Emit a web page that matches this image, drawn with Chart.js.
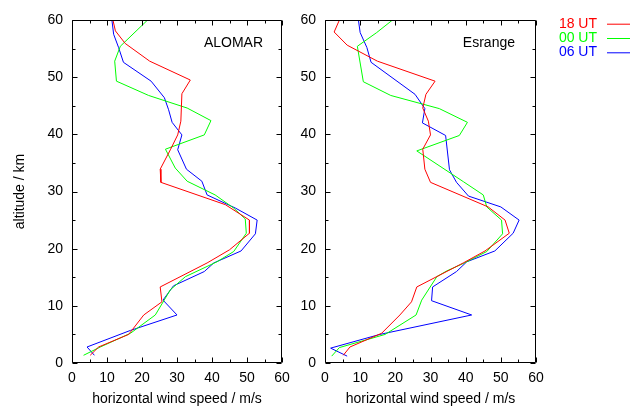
<!DOCTYPE html>
<html><head><meta charset="utf-8">
<script src="https://cdn.jsdelivr.net/npm/chart.js@4/dist/chart.umd.min.js"></script>
<style>
html,body{margin:0;padding:0;background:#fff;width:641px;height:408px;overflow:hidden}
#a{position:absolute;left:0;top:0;width:300px;height:408px}
#b{position:absolute;left:290px;top:0;width:351px;height:408px}
</style></head><body>
<canvas id="a" width="300" height="408"></canvas>
<canvas id="b" width="351" height="408"></canvas>
<script>
// ---- data ----
const seriesLabels = ['18 UT', '00 UT', '06 UT'];
const seriesColors = ['#ff0000', '#00ff00', '#0000ff'];
const xTicks = [0, 10, 20, 30, 40, 50, 60];
const yTicks = [0, 10, 20, 30, 40, 50, 60];
const xTitle = 'horizontal wind speed / m/s';
const yTitle = 'altitude / km';
const panelNames = ['ALOMAR', 'Esrange'];

// ALOMAR
const alomar18Alt = [60, 58.1, 55.9, 52.8, 49.5, 47.1, 42.3, 39.9, 37.3, 33.9, 31.6, 27.7, 25.0, 22.7, 19.8, 17.5, 13.3, 10.7, 8.4, 5.0, 2.8, 1.35];
const alomar18Spd = [11.7, 12.4, 15.2, 22.2, 33.8, 31.4, 31.1, 30.2, 28.1, 25.2, 25.4, 43.8, 50.7, 50.7, 45.0, 38.6, 25.2, 25.7, 20.5, 16.2, 7.6, 5.2];
const alomar00Alt = [60, 55.4, 52.8, 49.3, 46.8, 44.6, 42.4, 39.9, 37.4, 34.1, 31.8, 29.4, 27.1, 25.2, 22.7, 19.5, 17.7, 15.1, 12.8, 8.4, 5.2, 2.8, 1.35];
const alomar00Spd = [21.6, 13.8, 12.2, 12.7, 21.9, 32.9, 39.7, 37.8, 26.7, 29.5, 32.9, 40.9, 46.2, 49.5, 49.8, 46.2, 41.4, 32.4, 28.1, 23.8, 16.7, 8.1, 3.3];
const alomar06Alt = [60, 57.5, 55.2, 52.6, 49.3, 46.4, 44.3, 42.1, 39.9, 37.3, 33.9, 31.8, 29.4, 27.1, 25.0, 22.6, 19.6, 17.5, 16.0, 13.5, 11.0, 8.4, 5.7, 2.8, 1.35];
const alomar06Spd = [11.4, 11.9, 13.3, 14.7, 22.6, 26.4, 27.6, 28.6, 31.4, 30.2, 32.7, 37.1, 38.6, 46.7, 52.9, 52.4, 48.3, 40.5, 37.8, 29.0, 26.0, 30.0, 16.7, 4.3, 6.4];

// Esrange
const esrange18Alt = [60, 57.9, 55.6, 52.8, 49.3, 47.0, 44.6, 42.3, 39.9, 37.4, 33.9, 31.6, 27.3, 25.0, 22.7, 19.6, 17.5, 13.3, 10.7, 8.4, 5.2, 2.8, 1.35];
const esrange18Spd = [4.1, 2.6, 6.3, 14.9, 31.3, 28.7, 27.8, 29.4, 30.0, 27.8, 28.4, 30.0, 46.4, 51.2, 52.4, 45.5, 39.3, 26.1, 24.6, 21.3, 16.1, 7.1, 5.2];
const esrange00Alt = [60, 57.8, 55.4, 49.2, 46.8, 44.5, 42.1, 39.8, 37.1, 31.7, 29.4, 27.3, 25.0, 22.6, 19.5, 17.4, 16.1, 15.1, 11.0, 8.4, 5.0, 2.7, 1.2];
const esrange00Spd = [19.2, 14.7, 9.2, 10.9, 18.7, 32.5, 40.5, 38.2, 26.1, 39.4, 45.0, 46.0, 50.2, 50.5, 46.0, 39.3, 34.6, 31.8, 27.5, 25.9, 17.1, 4.1, 1.9];
const esrange06Alt = [60, 57.8, 55.2, 52.6, 47.0, 44.5, 42.0, 39.8, 33.8, 31.6, 29.2, 27.3, 25.0, 22.7, 19.6, 17.7, 16.0, 13.3, 10.9, 8.4, 5.0, 2.6, 1.2];
const esrange06Spd = [9.5, 10.0, 11.9, 13.1, 25.6, 28.4, 27.7, 34.3, 35.4, 37.4, 40.8, 50.0, 55.2, 53.5, 48.3, 40.3, 37.4, 30.6, 30.3, 41.7, 15.6, 1.6, 6.3];

const FONT = '"Liberation Sans", Arial, Helvetica, sans-serif';

function pts(spd, alt) { return spd.map((v, i) => ({x: v, y: alt[i]})); }
function makeDatasets(list) {
  return list.map((p, i) => ({
    label: seriesLabels[i], data: pts(p[0], p[1]),
    borderColor: seriesColors[i], backgroundColor: seriesColors[i],
    borderWidth: 1, pointRadius: 0, showLine: true, fill: false, tension: 0
  }));
}

const framePlugin = {
  id: 'frame',
  afterDatasetsDraw(chart, args, opts) {
    const ctx = chart.ctx, a = chart.chartArea;
    const xs = chart.scales.x, ys = chart.scales.y;
    ctx.save();
    ctx.strokeStyle = '#000'; ctx.lineWidth = 1;
    const L = Math.round(a.left) + 0.5, R = Math.round(a.right) - 0.5;
    const T = Math.round(a.top) + 0.5, B = Math.round(a.bottom) - 0.5;
    ctx.beginPath();
    ctx.rect(L, T, R - L, B - T);
    for (let v = 0; v <= 60; v += 5) {
      const len = (v % 10 === 0) ? 5 : 3;
      const px = Math.round(xs.getPixelForValue(v)) + 0.5;
      ctx.moveTo(px, B); ctx.lineTo(px, B - len);
      ctx.moveTo(px, T); ctx.lineTo(px, T + len);
      const py = Math.round(ys.getPixelForValue(v)) + 0.5;
      ctx.moveTo(L, py); ctx.lineTo(L + len, py);
      ctx.moveTo(R, py); ctx.lineTo(R - len, py);
    }
    ctx.stroke();
    // panel name
    ctx.fillStyle = '#000';
    ctx.font = '14px ' + FONT;
    ctx.textAlign = 'right'; ctx.textBaseline = 'middle';
    ctx.fillText(opts.name, a.right - opts.nameDx, 43.5);
    // legend
    if (opts.legend) {
      chart.data.datasets.forEach((ds, i) => {
        const y = 24 + i * 14.3;
        ctx.fillStyle = ds.borderColor;
        ctx.textAlign = 'right';
        ctx.fillText(ds.label, opts.legendX, y);
        ctx.strokeStyle = ds.borderColor;
        ctx.lineWidth = 1;
        ctx.beginPath();
        ctx.moveTo(opts.legendX + 10, y + 0.2);
        ctx.lineTo(opts.legendX + 33, y + 0.2);
        ctx.stroke();
      });
    }
    ctx.restore();
  }
};

function makeChart(id, datasets, cfg) {
  return new Chart(document.getElementById(id), {
    type: 'scatter',
    data: {datasets},
    plugins: [framePlugin],
    options: {
      responsive: false, animation: false, devicePixelRatio: 1,
      layout: {padding: {left: 0, right: cfg.padRight, top: 20, bottom: 0}},
      plugins: {
        legend: {display: false}, tooltip: {enabled: false},
        frame: {name: cfg.name, nameDx: cfg.nameDx, legend: cfg.legend, legendX: cfg.legendX}
      },
      scales: {
        x: {
          type: 'linear', min: 0, max: 60,
          afterBuildTicks: s => { s.ticks = xTicks.map(v => ({value: v})); },
          ticks: {color: '#000', font: {family: FONT, size: 14}, padding: 7, maxRotation: 0, autoSkip: false},
          grid: {display: false, drawTicks: false},
          border: {display: false},
          title: {display: true, text: xTitle, color: '#000', font: {family: FONT, size: 14}, padding: {top: 0, bottom: 0}},
          afterFit: s => { s.height = 45; }
        },
        y: {
          type: 'linear', min: 0, max: 60,
          afterBuildTicks: s => { s.ticks = yTicks.map(v => ({value: v})); },
          ticks: {color: '#000', font: {family: FONT, size: 14}, padding: 9, autoSkip: false},
          grid: {display: false, drawTicks: false},
          border: {display: false},
          title: {display: cfg.yTitle, text: yTitle, color: '#000', font: {family: FONT, size: 14}, padding: {top: 12, bottom: 0}},
          afterFit: s => { s.width = cfg.yw; }
        }
      }
    }
  });
}

makeChart('a', makeDatasets([[alomar18Spd, alomar18Alt], [alomar00Spd, alomar00Alt], [alomar06Spd, alomar06Alt]]),
  {padRight: 18, yw: 72, yTitle: true, name: panelNames[0], nameDx: 19, legend: false});
makeChart('b', makeDatasets([[esrange18Spd, esrange18Alt], [esrange00Spd, esrange00Alt], [esrange06Spd, esrange06Alt]]),
  {padRight: 105, yw: 35, yTitle: false, name: panelNames[1], nameDx: 21, legend: true, legendX: 307});
</script>
</body></html>
